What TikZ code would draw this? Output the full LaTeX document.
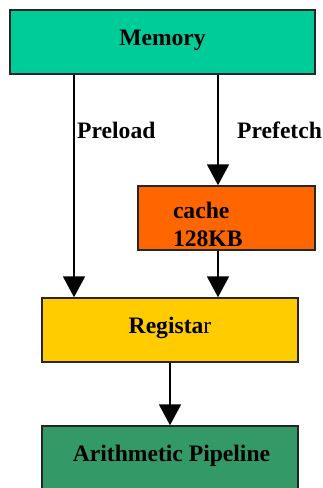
\documentclass[tikz,border=0pt]{standalone}
\usepackage{fontspec}
\setmainfont{Liberation Serif}
\usetikzlibrary{arrows.meta}
\definecolor{memcol}{RGB}{0,204,153}
\definecolor{cachecol}{RGB}{255,102,0}
\definecolor{regcol}{RGB}{255,204,0}
\definecolor{pipecol}{RGB}{51,153,102}

\begin{document}
\begin{tikzpicture}[x=1pt, y=-1pt,
  box/.style={draw=black!85, line width=1.5pt, minimum height=64pt, inner sep=0pt,
    text height=16pt, text depth=9pt, font=\fontsize{23.6}{28}\selectfont\bfseries},
  flow/.style={line width=2pt, -{Triangle[width=22pt,length=21pt]}},
  lbl/.style={anchor=base west, inner sep=0pt, font=\fontsize{23.6}{28}\selectfont\bfseries}]
\useasboundingbox (0,0) rectangle (323,488);
\def\PL{74}
\def\PF{218}

\node[box, fill=memcol, minimum width=305pt] (memory) at (162.5,42) {Memory};
\node[box, fill=cachecol, minimum width=177pt, text height=0pt, text depth=0pt] (cache) at (226.5,218)
  {\raisebox{0pt}[0pt][0pt]{\begin{tabular}[t]{@{}p{107pt}@{}}cache\\128KB\end{tabular}}};
\node[box, fill=regcol, minimum width=256pt] (reg) at (170,330) {Regista{\mdseries r}};
\node[box, fill=pipecol, minimum width=256pt] (pipe) at (170,458) {\hspace{3pt}Arithmetic Pipeline};

\coordinate (pl) at (\PL,0);
\coordinate (pf) at (\PF,0);

\draw[flow] (memory.south -| pl) -- (reg.north -| pl);
\draw[flow] (memory.south -| pf) -- (cache.north -| pf);
\draw[flow] (cache.south -| pf) -- (reg.north -| pf);
\draw[flow] (reg.south) -- (pipe.north);

\node[lbl] (preload) at (77,138) {Preload};
\node[lbl] (prefetch) at (237,138) {Prefetch};
\end{tikzpicture}
\end{document}
